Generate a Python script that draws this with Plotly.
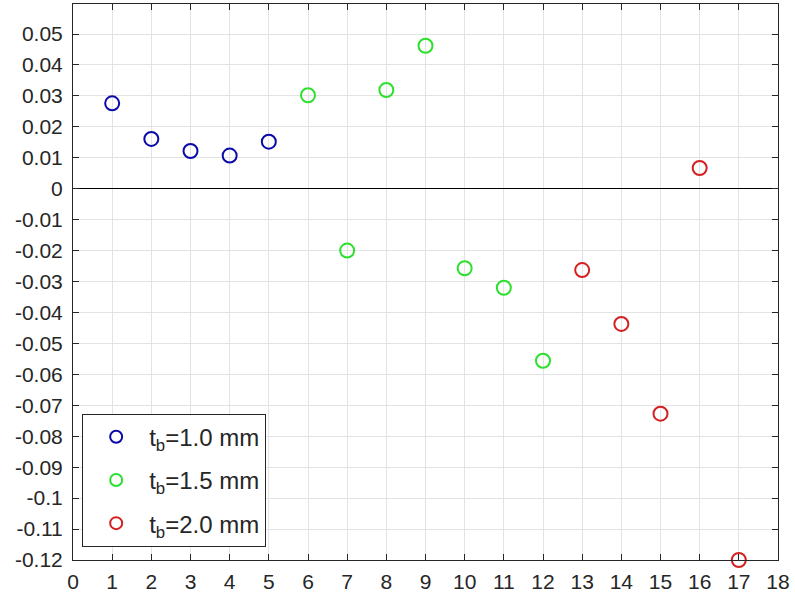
import plotly.graph_objects as go

x_10 = [1, 2, 3, 4, 5]
y_10 = [0.0276, 0.0161, 0.0122, 0.0107, 0.0152]
x_15 = [6, 7, 8, 9, 10, 11, 12]
y_15 = [0.0302, -0.0200, 0.0319, 0.0462, -0.0257, -0.0320, -0.0556]
x_20 = [13, 14, 15, 16, 17]
y_20 = [-0.0263, -0.0437, -0.0727, 0.0067, -0.1200]
names = ["t<sub>b</sub>=1.0 mm", "t<sub>b</sub>=1.5 mm", "t<sub>b</sub>=2.0 mm"]
colors = ["#0a0aa8", "#2ee02e", "#d42020"]

ytick_vals = [round(-0.12 + 0.01 * i, 2) for i in range(18)]
ytick_text = [("%g" % v) for v in ytick_vals]

fig = go.Figure()
for i, (xs, ys, nm, c) in enumerate(zip([x_10, x_15, x_20], [y_10, y_15, y_20], names, colors)):
    fig.add_trace(go.Scatter(
        x=xs, y=ys, mode="markers", name=nm, legendgroup="g%d" % i,
        marker=dict(symbol="circle-open", size=14, color=c, line=dict(width=2, color=c)),
        cliponaxis=False,
    ))

fig.update_layout(
    width=795, height=597,
    margin=dict(l=73, r=17, t=4, b=37),
    paper_bgcolor="white", plot_bgcolor="white",
    font=dict(family="Liberation Sans", size=21, color="#262626"),
    showlegend=True,
    legend=dict(
        x=0.013, y=0.024, xanchor="left", yanchor="bottom",
        bgcolor="white", bordercolor="#262626", borderwidth=1,
        font=dict(size=24, color="#262626"),
        itemsizing="constant", tracegroupgap=9, itemwidth=56,
    ),
)
fig.update_xaxes(
    range=[0, 18], dtick=1, tick0=0, tickfont=dict(size=21), automargin=False,
    ticklabelstandoff=3,
    showgrid=True, gridcolor="#e3e3e3",
    showline=True, linecolor="#262626", mirror="ticks",
    ticks="inside", ticklen=6, tickcolor="#262626", zeroline=False,
)
fig.update_yaxes(
    range=[-0.12, 0.0597], tickvals=ytick_vals, ticktext=ytick_text,
    tickfont=dict(size=21), automargin=False, ticklabelstandoff=5,
    showgrid=True, gridcolor="#e3e3e3",
    showline=True, linecolor="#262626", mirror="ticks",
    ticks="inside", ticklen=6, tickcolor="#262626",
    zeroline=True, zerolinecolor="#000000", zerolinewidth=1,
)

fig.write_html("out.html")
